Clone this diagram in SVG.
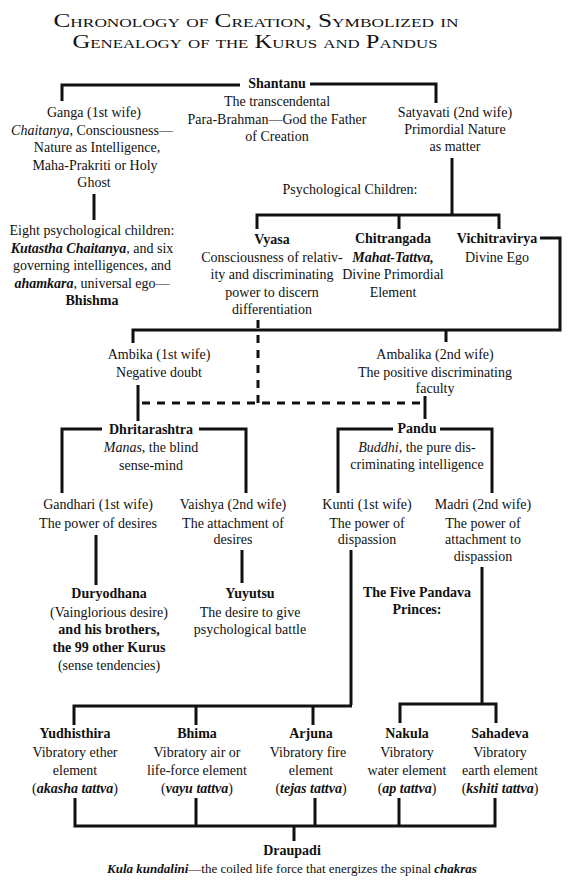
<svg xmlns="http://www.w3.org/2000/svg" width="574" height="888" viewBox="0 0 574 888">
<style>
text{font-family:"Liberation Serif","Times New Roman",serif;font-size:14px;fill:#111;text-anchor:middle}
.t{font-size:19px;font-variant:small-caps}
.b{font-weight:bold}
.i{font-style:italic}
.bi{font-style:italic;font-weight:bold}
.sm{font-size:13px}
.ln{fill:none;stroke:#111;stroke-width:3}
.ds{fill:none;stroke:#111;stroke-width:3;stroke-dasharray:8 7}
</style>
<rect width="574" height="888" fill="#fff"/>
<g id="title">
<text class="t" x="256" y="27" textLength="405" lengthAdjust="spacingAndGlyphs">Chronology of Creation, Symbolized in</text>
<text class="t" x="255" y="48" textLength="365" lengthAdjust="spacingAndGlyphs">Genealogy of the Kurus and Pandus</text>
</g>
<g id="connectors">
<path class="ln" d="M62,101 V85 H240"/>
<path class="ln" d="M310,84 H436 V103"/>
<path class="ln" d="M94,194 V220"/>
<path class="ln" d="M452,158 V215"/>
<path class="ln" d="M257,229 V215 H499 V229 M399,215 V229"/>
<path class="ln" d="M540,238 H560 V330 H133 V343 M446,330 V342"/>
<path class="ds" d="M258,320 V403"/>
<path class="ds" d="M142,403 H422"/>
<path class="ln" d="M425,396 V419"/>
<path class="ln" d="M138,385 V421"/>
<path class="ln" d="M102,429 H62 V493 M199,429 H246 V493"/>
<path class="ln" d="M393,429 H338 V493 M440,429 H492 V493"/>
<path class="ln" d="M96,535 V585"/>
<path class="ln" d="M242,550 V583"/>
<path class="ln" d="M351,550 V705"/>
<path class="ln" d="M482,567 V704"/>
<path class="ln" d="M74,725 V706 H352 M196,706 V725 M313,706 V725"/>
<path class="ln" d="M400,723 V704 H496 V723"/>
<path class="ln" d="M75,798 V826 H495 V798 M196,798 V826 M315,798 V826 M399,798 V826 M294,826 V841"/>
</g>
<g id="shantanu">
<text class="b" x="277" y="88">Shantanu</text>
<text x="277" y="106">The transcendental</text>
<text x="277" y="124">Para-Brahman—God the Father</text>
<text x="277" y="141">of Creation</text>
</g>
<g id="ganga">
<text x="94" y="117">Ganga (1st wife)</text>
<text x="92" y="135"><tspan class="i">Chaitanya</tspan>, Consciousness—</text>
<text x="97" y="152">Nature as Intelligence,</text>
<text x="95" y="170">Maha-Prakriti or Holy</text>
<text x="94" y="187">Ghost</text>
</g>
<g id="bhishma">
<text x="92" y="235">Eight psychological children:</text>
<text x="92" y="253"><tspan class="bi">Kutastha Chaitanya</tspan>, and six</text>
<text x="92" y="270">governing intelligences, and</text>
<text x="92" y="288"><tspan class="bi">ahamkara</tspan>, universal ego—</text>
<text class="b" x="92" y="305">Bhishma</text>
</g>
<g id="satyavati">
<text x="455" y="117">Satyavati (2nd wife)</text>
<text x="455" y="134">Primordial Nature</text>
<text x="455" y="151">as matter</text>
</g>
<g id="psych-label">
<text x="350" y="194">Psychological Children:</text>
</g>
<g id="vyasa">
<text class="b" x="272" y="244">Vyasa</text>
<text x="272" y="262">Consciousness of relativ-</text>
<text x="272" y="279">ity and discriminating</text>
<text x="272" y="297">power to discern</text>
<text x="272" y="314">differentiation</text>
</g>
<g id="chitrangada">
<text class="b" x="393" y="243">Chitrangada</text>
<text class="bi" x="393" y="262">Mahat-Tattva,</text>
<text x="393" y="279">Divine Primordial</text>
<text x="393" y="297">Element</text>
</g>
<g id="vichitravirya">
<text class="b" x="497" y="243">Vichitravirya</text>
<text x="497" y="262">Divine Ego</text>
</g>
<g id="ambika">
<text x="159" y="359">Ambika (1st wife)</text>
<text x="159" y="377">Negative doubt</text>
</g>
<g id="ambalika">
<text x="435" y="359">Ambalika (2nd wife)</text>
<text x="435" y="377">The positive discriminating</text>
<text x="435" y="393">faculty</text>
</g>
<g id="dhritarashtra">
<text class="b" x="151" y="434">Dhritarashtra</text>
<text x="151" y="452"><tspan class="i">Manas</tspan>, the blind</text>
<text x="151" y="470">sense-mind</text>
</g>
<g id="pandu">
<text class="b" x="417" y="433">Pandu</text>
<text x="417" y="452"><tspan class="i">Buddhi</tspan>, the pure dis-</text>
<text x="417" y="469">criminating intelligence</text>
</g>
<g id="gandhari">
<text x="98" y="509">Gandhari (1st wife)</text>
<text x="98" y="528">The power of desires</text>
</g>
<g id="vaishya">
<text x="233" y="509">Vaishya (2nd wife)</text>
<text x="233" y="528">The attachment of</text>
<text x="233" y="544">desires</text>
</g>
<g id="kunti">
<text x="367" y="509">Kunti (1st wife)</text>
<text x="367" y="528">The power of</text>
<text x="367" y="544">dispassion</text>
</g>
<g id="madri">
<text x="483" y="509">Madri (2nd wife)</text>
<text x="483" y="528">The power of</text>
<text x="483" y="544">attachment to</text>
<text x="483" y="561">dispassion</text>
</g>
<g id="duryodhana">
<text class="b" x="109" y="598">Duryodhana</text>
<text x="109" y="617">(Vainglorious desire)</text>
<text class="b" x="109" y="634">and his brothers,</text>
<text class="b" x="109" y="652">the 99 other Kurus</text>
<text x="109" y="670">(sense tendencies)</text>
</g>
<g id="yuyutsu">
<text class="b" x="250" y="598">Yuyutsu</text>
<text x="250" y="617">The desire to give</text>
<text x="250" y="634">psychological battle</text>
</g>
<g id="pandava-label">
<text class="b" x="417" y="597">The Five Pandava</text>
<text class="b" x="417" y="614">Princes:</text>
</g>
<g id="yudhisthira">
<text class="b" x="75" y="738">Yudhisthira</text>
<text x="75" y="757">Vibratory ether</text>
<text x="75" y="775">element</text>
<text x="75" y="793">(<tspan class="bi">akasha tattva</tspan>)</text>
</g>
<g id="bhima">
<text class="b" x="197" y="738">Bhima</text>
<text x="197" y="757">Vibratory air or</text>
<text x="197" y="775">life-force element</text>
<text x="197" y="793">(<tspan class="bi">vayu tattva</tspan>)</text>
</g>
<g id="arjuna">
<text class="b" x="311" y="738">Arjuna</text>
<text x="308" y="757">Vibratory fire</text>
<text x="311" y="775">element</text>
<text x="311" y="793">(<tspan class="bi">tejas tattva</tspan>)</text>
</g>
<g id="nakula">
<text class="b" x="407" y="738">Nakula</text>
<text x="407" y="757">Vibratory</text>
<text x="407" y="775">water element</text>
<text x="407" y="793">(<tspan class="bi">ap tattva</tspan>)</text>
</g>
<g id="sahadeva">
<text class="b" x="500" y="738">Sahadeva</text>
<text x="500" y="757">Vibratory</text>
<text x="500" y="775">earth element</text>
<text x="500" y="793">(<tspan class="bi">kshiti tattva</tspan>)</text>
</g>
<g id="draupadi">
<text class="b" x="292" y="855">Draupadi</text>
<text class="sm" x="292" y="873"><tspan class="bi">Kula kundalini</tspan>—the coiled life force that energizes the spinal <tspan class="bi">chakras</tspan></text>
</g>
</svg>
